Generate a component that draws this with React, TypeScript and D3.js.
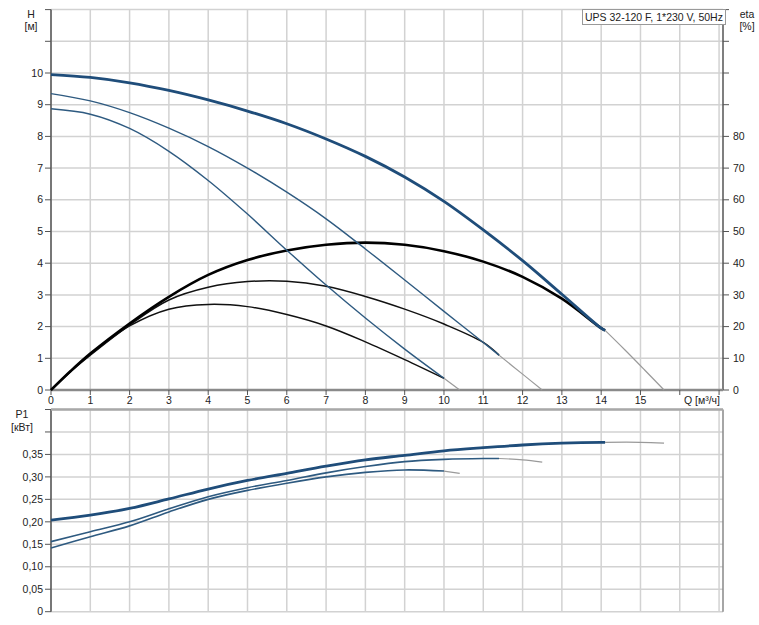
import React, { useEffect, useRef } from 'react'
import * as d3 from 'd3'

// Q [m3/h] / H [m] pump curves, three speeds
const head3 = [[0, 9.95], [1, 9.86], [2, 9.69], [3, 9.45], [4, 9.15], [5, 8.8], [6, 8.4], [7, 7.92], [8, 7.37], [9, 6.72], [10, 5.95], [11, 5.05], [12, 4.08], [13, 3.02], [14, 1.95], [14.1, 1.88]]
const head3Tail = [[14.1, 1.88], [14.6, 1.27], [15.1, 0.64], [15.6, 0]]
const head2 = [[0, 9.35], [1, 9.12], [2, 8.75], [3, 8.26], [4, 7.68], [5, 7.0], [6, 6.24], [7, 5.4], [8, 4.45], [9, 3.47], [10, 2.48], [11, 1.5], [11.4, 1.1]]
const head2Tail = [[11.4, 1.1], [12, 0.5], [12.5, 0]]
const head1 = [[0, 8.87], [1, 8.7], [2, 8.25], [3, 7.53], [4, 6.61], [5, 5.55], [6, 4.41], [7, 3.31], [8, 2.27], [9, 1.29], [10, 0.37]]
const head1Tail = [[10, 0.37], [10.4, 0]]

// efficiency, drawn on the H scale (eta% / 10)
const eta3 = [[0, 0], [0.5, 0.6], [1, 1.15], [2, 2.1], [3, 2.94], [4, 3.63], [5, 4.1], [6, 4.4], [7, 4.58], [8, 4.65], [9, 4.58], [10, 4.38], [11, 4.05], [12, 3.57], [13, 2.88], [14, 1.95], [14.1, 1.88]]
const eta2 = [[0, 0], [0.5, 0.58], [1, 1.1], [2, 2.05], [3, 2.84], [4, 3.24], [5, 3.42], [6, 3.43], [7, 3.27], [8, 2.95], [9, 2.55], [10, 2.08], [11, 1.5], [11.4, 1.1]]
const eta1 = [[0, 0], [0.5, 0.6], [1, 1.12], [2, 2.02], [3, 2.55], [4, 2.7], [5, 2.63], [6, 2.38], [7, 2.02], [8, 1.52], [9, 0.96], [10, 0.37]]

// P1 [kW]
const power3 = [[0, 0.204], [1, 0.215], [2, 0.23], [3, 0.251], [4, 0.273], [5, 0.292], [6, 0.308], [7, 0.324], [8, 0.338], [9, 0.348], [10, 0.358], [11, 0.365], [12, 0.371], [13, 0.375], [14, 0.377], [14.1, 0.377]]
const power3Tail = [[14.1, 0.377], [15, 0.377], [15.6, 0.375]]
const power2 = [[0, 0.156], [1, 0.178], [2, 0.2], [3, 0.229], [4, 0.256], [5, 0.276], [6, 0.292], [7, 0.309], [8, 0.323], [9, 0.334], [10, 0.339], [11, 0.341], [11.4, 0.341]]
const power2Tail = [[11.4, 0.341], [12, 0.338], [12.5, 0.333]]
const power1 = [[0, 0.142], [1, 0.167], [2, 0.191], [3, 0.222], [4, 0.25], [5, 0.27], [6, 0.286], [7, 0.3], [8, 0.31], [9, 0.3155], [10, 0.313]]
const power1Tail = [[10, 0.313], [10.4, 0.308]]

const qTicks = d3.range(0, 18)
const qLabels = d3.range(0, 16)
const hTicks = d3.range(0, 13)
const hLabels = d3.range(0, 11)
const etaTicks = d3.range(0, 130, 10)
const etaLabels = d3.range(0, 90, 10)
const pTicks = d3.range(0, 10).map(i => i * 0.05)
const pLabels = d3.range(0, 8).map(i => i * 0.05)

const title = 'UPS 32-120 F, 1*230 V, 50Hz'

export default function App() {
  const ref = useRef(null)

  useEffect(() => {
    const svg = d3.select(ref.current)
    svg.selectAll('*').remove()

    const font = 'Liberation Sans, Arial, sans-serif'
    const blue = '#1f4d7a'
    const thinBlue = '#2e5a80'
    const grid = '#d2d2d2'

    const x = d3.scaleLinear().domain([0, 17.1]).range([51, 723])
    const yH = d3.scaleLinear().domain([0, 12]).range([390, 9.6])
    const yEta = d3.scaleLinear().domain([0, 120]).range([390, 9.6])
    const yP = d3.scaleLinear().domain([0, 0.45]).range([611.7, 409.5])

    const g = svg.append('g')

    // grid, top panel
    g.selectAll('.vgt').data(qTicks).enter().append('line')
      .attr('x1', d => x(d)).attr('x2', d => x(d))
      .attr('y1', yH(12)).attr('y2', yH(0))
      .attr('stroke', grid).attr('stroke-width', 1.5)
    g.selectAll('.hgt').data(hTicks).enter().append('line')
      .attr('x1', x(0)).attr('x2', x(17.1))
      .attr('y1', d => yH(d)).attr('y2', d => yH(d))
      .attr('stroke', grid).attr('stroke-width', 1.5)

    // grid, bottom panel
    g.selectAll('.vgb').data(qTicks).enter().append('line')
      .attr('x1', d => x(d)).attr('x2', d => x(d))
      .attr('y1', yP(0.45)).attr('y2', yP(0))
      .attr('stroke', grid).attr('stroke-width', 1.5)
    g.selectAll('.hgb').data(pTicks).enter().append('line')
      .attr('x1', x(0)).attr('x2', x(17.1))
      .attr('y1', d => yP(d)).attr('y2', d => yP(d))
      .attr('stroke', grid).attr('stroke-width', 1.5)

    // axes lines
    g.append('line').attr('x1', x(0)).attr('x2', x(0)).attr('y1', yH(12)).attr('y2', yH(0))
      .attr('stroke', '#555').attr('stroke-width', 1.5)
    g.append('line').attr('x1', x(17.1)).attr('x2', x(17.1)).attr('y1', yH(12)).attr('y2', yH(0))
      .attr('stroke', '#555').attr('stroke-width', 1.5)
    g.append('line').attr('x1', x(0)).attr('x2', x(17.1)).attr('y1', yH(0)).attr('y2', yH(0))
      .attr('stroke', '#8a8a8a').attr('stroke-width', 2.5)
    g.append('line').attr('x1', x(0)).attr('x2', x(0)).attr('y1', yP(0.45)).attr('y2', yP(0))
      .attr('stroke', '#555').attr('stroke-width', 1.5)
    g.append('line').attr('x1', x(17.1)).attr('x2', x(17.1)).attr('y1', yP(0.45)).attr('y2', yP(0))
      .attr('stroke', '#888').attr('stroke-width', 1.5)
    g.append('line').attr('x1', x(0)).attr('x2', x(17.1)).attr('y1', yP(0.45)).attr('y2', yP(0.45))
      .attr('stroke', '#a8a8a8').attr('stroke-width', 2.5)

    // ticks
    g.selectAll('.th').data(hTicks).enter().append('line')
      .attr('x1', x(0) - 6).attr('x2', x(0)).attr('y1', d => yH(d)).attr('y2', d => yH(d))
      .attr('stroke', '#555')
    g.selectAll('.te').data(etaTicks).enter().append('line')
      .attr('x1', x(17.1)).attr('x2', x(17.1) + 6).attr('y1', d => yEta(d)).attr('y2', d => yEta(d))
      .attr('stroke', '#555')
    g.selectAll('.tq').data(qTicks).enter().append('line')
      .attr('x1', d => x(d)).attr('x2', d => x(d)).attr('y1', yH(0)).attr('y2', yH(0) + 5)
      .attr('stroke', '#555')
    g.selectAll('.tp').data(pTicks).enter().append('line')
      .attr('x1', x(0) - 6).attr('x2', x(0)).attr('y1', d => yP(d)).attr('y2', d => yP(d))
      .attr('stroke', '#555')

    const txt = (sel) => sel.style('font-family', font).style('font-size', '10.5px').attr('fill', '#222')

    g.selectAll('.lh').data(hLabels).enter().append('text')
      .attr('x', x(0) - 8).attr('y', d => yH(d)).attr('dy', '0.35em')
      .attr('text-anchor', 'end').text(d => d).call(txt)
    g.selectAll('.le').data(etaLabels).enter().append('text')
      .attr('x', x(17.1) + 10).attr('y', d => yEta(d)).attr('dy', '0.35em')
      .attr('text-anchor', 'start').text(d => d).call(txt)
    g.selectAll('.lq').data(qLabels).enter().append('text')
      .attr('x', d => x(d)).attr('y', yH(0) + 10).attr('dy', '0.35em')
      .attr('text-anchor', 'middle').text(d => d).call(txt)
    g.selectAll('.lp').data(pLabels).enter().append('text')
      .attr('x', x(0) - 8).attr('y', d => yP(d)).attr('dy', '0.35em')
      .attr('text-anchor', 'end')
      .text(d => d === 0 ? '0' : d3.format('.2f')(d).replace('.', ',')).call(txt)

    g.append('text').attr('x', 720).attr('y', yH(0) + 10).attr('dy', '0.35em')
      .attr('text-anchor', 'end').text('Q [м³/ч]').call(txt)
    g.append('text').attr('x', 31).attr('y', 14).attr('dy', '0.35em').attr('text-anchor', 'middle').text('H').call(txt)
    g.append('text').attr('x', 31).attr('y', 26).attr('dy', '0.35em').attr('text-anchor', 'middle').text('[м]').call(txt)
    g.append('text').attr('x', 747).attr('y', 14).attr('dy', '0.35em').attr('text-anchor', 'middle').text('eta').call(txt)
    g.append('text').attr('x', 747).attr('y', 26).attr('dy', '0.35em').attr('text-anchor', 'middle').text('[%]').call(txt)
    g.append('text').attr('x', 22).attr('y', 414).attr('dy', '0.35em').attr('text-anchor', 'middle').text('P1').call(txt)
    g.append('text').attr('x', 22).attr('y', 427).attr('dy', '0.35em').attr('text-anchor', 'middle').text('[кВт]').call(txt)

    // curves
    const smooth = d3.curveCatmullRom.alpha(0.5)
    const lineH = d3.line().x(d => x(d[0])).y(d => yH(d[1])).curve(smooth)
    const lineP = d3.line().x(d => x(d[0])).y(d => yP(d[1])).curve(smooth)
    const draw = (data, gen, color, w) => g.append('path').datum(data)
      .attr('d', gen).attr('fill', 'none').attr('stroke', color).attr('stroke-width', w)
      .attr('stroke-linejoin', 'round')

    draw(head3Tail, lineH, '#9a9a9a', 1.2)
    draw(head2Tail, lineH, '#9a9a9a', 1.2)
    draw(head1Tail, lineH, '#9a9a9a', 1.2)
    draw(eta1, lineH, '#111', 1.5)
    draw(eta2, lineH, '#111', 1.5)
    draw(eta3, lineH, '#000', 2.6)
    draw(head1, lineH, thinBlue, 1.4)
    draw(head2, lineH, thinBlue, 1.4)
    draw(head3, lineH, blue, 2.8)

    draw(power3Tail, lineP, '#9a9a9a', 1.2)
    draw(power2Tail, lineP, '#9a9a9a', 1.2)
    draw(power1Tail, lineP, '#9a9a9a', 1.2)
    draw(power1, lineP, thinBlue, 1.6)
    draw(power2, lineP, thinBlue, 1.6)
    draw(power3, lineP, blue, 2.8)

    // title box
    g.append('rect').attr('x', 582.5).attr('y', 9.5).attr('width', 143).attr('height', 15)
      .attr('fill', '#fff').attr('stroke', '#999')
    g.append('text').attr('x', 585).attr('y', 17).attr('dy', '0.35em')
      .text(title).call(txt)
  }, [])

  return (
    <svg ref={ref} width={759} height={625}
      style={{ position: 'absolute', left: 0, top: 0, background: '#fff' }} />
  )
}
